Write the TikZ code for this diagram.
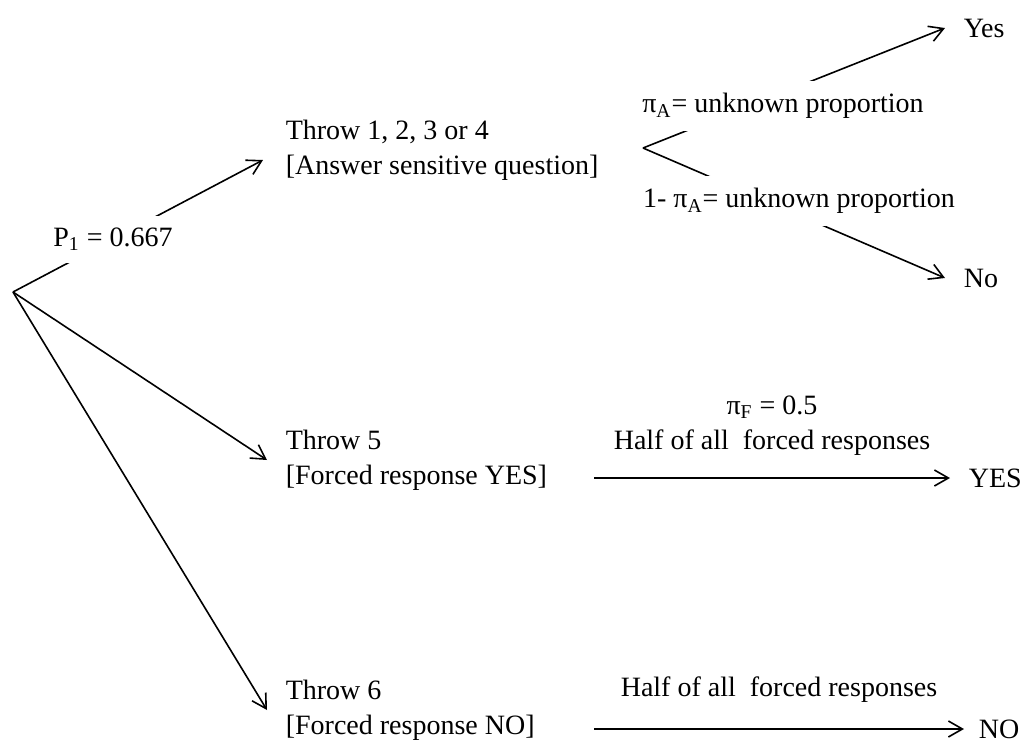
\documentclass[tikz,border=0pt]{standalone}
\usepackage{fontspec}
\setmainfont{Liberation Serif}
\usetikzlibrary{arrows.meta}

\begin{document}
\begin{tikzpicture}[x=0.5pt, y=-0.5pt,
      font={\fontsize{14}{17.5}\selectfont},
      line width=0.8pt,
      arr/.style={-{Straight Barb[length=7pt,width=8pt]}},
      txt/.style={inner sep=0pt, anchor=west, align=left},
      cover/.style={fill=white, inner sep=6pt}]
      \useasboundingbox (0,0) rectangle (1023,745);
      \coordinate (root) at (13,292);
      \coordinate (fork) at (643,148);
      \coordinate (y0) at (594,478);
      \coordinate (n0) at (594,729);
      \node[txt] (t1) at (285,150) {Throw 1, 2, 3 or 4\\{}[Answer sensitive question]};
      \node[txt] (t5) at (285,460) {Throw 5\\{}[Forced response YES]};
      \node[txt] (t6) at (285,710) {Throw 6\\{}[Forced response NO]};
      \node[txt] (yes) at (963,28) {Yes};
      \node[txt] (no) at (963,278) {No};
      \node[txt] (YES) at (968,478) {YES};
      \node[txt] (NO) at (978,729) {NO};
      \draw[arr] (root) -- node[cover, pos=0.4]{P\textsubscript{1} = 0.667} ([xshift=-11pt,yshift=-5pt]t1.west);
      \draw[arr] (root) -- ([xshift=-9pt]t5.west);
      \draw[arr] (root) -- ([xshift=-9pt]t6.west);
      \draw[arr] (fork) -- ([xshift=-9pt]yes.west);
      \draw[arr] (fork) -- ([xshift=-9pt]no.west);
      \node[cover] (pa) at (783,106) {π\textsubscript{A}= unknown proportion};
      \node[cover] (pb) at (799,201) {1- π\textsubscript{A}= unknown proportion};
      % \node[cover] (pf) at (765,405) {π\textsubscript{F} = 0.5};
      \draw[arr] (y0) -- node[above=11pt, inner sep=0pt, align=center]{π\textsubscript{F} = 0.5\\Half of all\ \ forced responses} ([xshift=-9pt]YES.west);
      \draw[arr] (n0) -- node[above=13pt, inner sep=0pt]{Half of all\ \ forced responses} ([xshift=-7pt]NO.west);
    \end{tikzpicture}
\end{document}
